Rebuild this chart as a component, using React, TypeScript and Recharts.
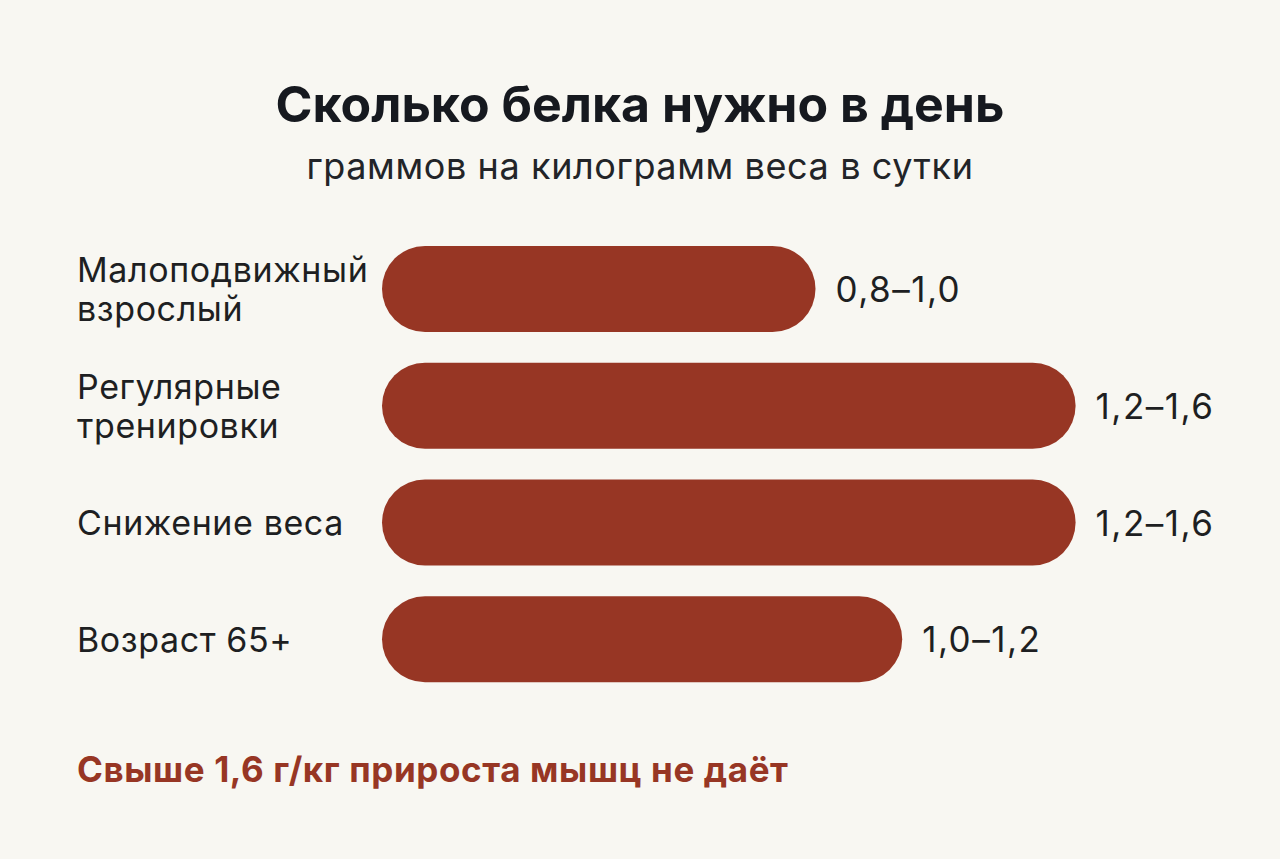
import React from "react"
import { BarChart, Bar, XAxis, YAxis, LabelList } from "recharts"

const categories = ["Малоподвижный\nвзрослый", "Регулярные\nтренировки", "Снижение веса", "Возраст 65+"]
const upperValues = [1.0, 1.6, 1.6, 1.2]
const rangeLabels = ["0,8–1,0", "1,2–1,6", "1,2–1,6", "1,0–1,2"]

const data = categories.map((name, i) => ({ name, value: upperValues[i], range: rangeLabels[i] }))

const BG = "#f8f7f2"
const BAR = "#973624"
const INK = "#16191f"
const FONT = "Inter, 'Noto Sans', sans-serif"

function CategoryTick(props: any) {
  const { y, payload } = props
  const lines = String(payload.value).split("\n")
  const lineH = 39
  const startY = y - ((lines.length - 1) * lineH) / 2
  return (
    <g>
      {lines.map((l, i) => (
        <text
          key={i}
          x={77}
          y={startY + i * lineH}
          fill="#1e1f22"
          fontSize={34}
          letterSpacing={0.6}
          fontFamily={FONT}
          textAnchor="start"
          dominantBaseline="central"
        >
          {l}
        </text>
      ))}
    </g>
  )
}

function RangeLabel(props: any) {
  const { x, y, width, height, index } = props
  return (
    <text
      x={x + width + 20}
      y={y + height / 2}
      fill="#1e1f22"
      fontSize={35}
      letterSpacing={1.5}
      fontFamily={FONT}
      dominantBaseline="central"
    >
      {rangeLabels[index]}
    </text>
  )
}

export default function App() {
  return (
    <div style={{ position: "fixed", left: 0, top: 0, width: 1280, height: 859, background: BG, fontFamily: FONT }}>
      <div style={{ position: "absolute", top: 74, width: 1280, textAlign: "center", fontSize: 50, fontWeight: 700, color: INK }}>
        Сколько белка нужно в день
      </div>
      <div style={{ position: "absolute", top: 144, width: 1280, textAlign: "center", fontSize: 36, letterSpacing: 0.6, color: "#222428" }}>
        граммов на килограмм веса в сутки
      </div>
      <div style={{ position: "absolute", top: 0, left: 0 }}>
        <BarChart width={1280} height={859} data={data} layout="vertical" margin={{ top: 231, right: 31, bottom: 161, left: 0 }}>
          <XAxis type="number" domain={[0, 2]} hide />
          <YAxis type="category" dataKey="name" width={382} axisLine={false} tickLine={false} tick={<CategoryTick />} />
          <Bar dataKey="value" fill={BAR} barSize={86} radius={[43, 43, 43, 43]} isAnimationActive={false}>
            <LabelList dataKey="range" content={<RangeLabel />} />
          </Bar>
        </BarChart>
      </div>
      <div style={{ position: "absolute", top: 748, left: 77, fontSize: 35, fontWeight: 700, color: BAR, letterSpacing: 0.6 }}>
        Свыше 1,6 г/кг прироста мышц не даёт
      </div>
    </div>
  )
}
